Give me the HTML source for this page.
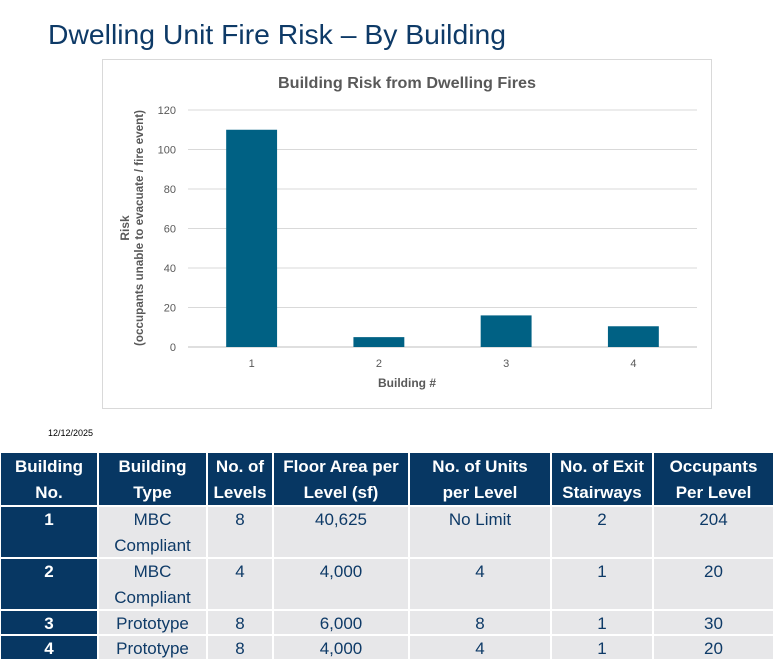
<!DOCTYPE html>
<html><head><meta charset="utf-8"><style>
html,body{margin:0;padding:0;background:#fff;}
svg{display:block;font-family:"Liberation Sans Narrow","Liberation Sans",sans-serif;}
</style></head><body>
<svg id="root" width="780" height="667" viewBox="0 0 780 667" xmlns="http://www.w3.org/2000/svg">
<text x="48" y="44" font-size="28" fill="#0e3a67" textLength="458" lengthAdjust="spacingAndGlyphs" font-family="Liberation Sans, sans-serif">Dwelling Unit Fire Risk – By Building</text>
<g>
<rect x="102.5" y="59.5" width="609" height="349" fill="#fff" stroke="#d9d9d9"/>
<text x="407" y="88" font-size="16" font-weight="bold" fill="#595959" text-anchor="middle" textLength="258" lengthAdjust="spacingAndGlyphs">Building Risk from Dwelling Fires</text>
<g id="grid"></g>
<g id="yticks"></g>
<g id="bars"></g>
<g id="xticks"></g>
<text x="407" y="387" font-size="12" font-weight="bold" fill="#595959" text-anchor="middle">Building #</text>
<g transform="translate(129,228) rotate(-90)">
<text x="0" y="0" font-size="12" font-weight="bold" fill="#595959" text-anchor="middle">Risk</text>
<text x="0" y="14" font-size="12" font-weight="bold" fill="#595959" text-anchor="middle" textLength="236" lengthAdjust="spacingAndGlyphs">(occupants unable to evacuate / fire event)</text>
</g>
</g>
<text x="48" y="436" font-size="9" fill="#000">12/12/2025</text>
<g id="table"></g>
</svg>
<script>
const categories = ["1","2","3","4"];
const riskValues = [110, 5, 16, 10.5];
const yTicks = [0,20,40,60,80,100,120];
const NS="http://www.w3.org/2000/svg";
function mk(tag,attrs,parent){const e=document.createElementNS(NS,tag);for(const k in attrs)e.setAttribute(k,attrs[k]);parent.appendChild(e);return e;}
const plotL=188, plotR=697, y0=347, y120=110;
function yScale(v){return y0-(v/120)*(y0-y120);}
const band=(plotR-plotL)/categories.length;
function xCenter(i){return plotL+band*(i+0.5);}
const grid=document.getElementById('grid'), yt=document.getElementById('yticks');
yTicks.forEach(t=>{
  const l=mk('line',{x1:plotL,x2:plotR,y1:yScale(t),y2:yScale(t),stroke:t===0?'#bfbfbf':'#d9d9d9','stroke-width':1},grid);
  
  
  const tx=mk('text',{x:176,y:yScale(t)+4,'font-size':11,fill:'#595959','text-anchor':'end','font-family':'Liberation Sans, sans-serif'},yt);
  tx.textContent=t;
  
  
});
const bars=document.getElementById('bars'), xt=document.getElementById('xticks');
const bw=band*0.4;
riskValues.forEach((v,i)=>{
  const r=mk('rect',{x:xCenter(i)-bw/2,y:yScale(v),width:bw,height:y0-yScale(v),fill:'#006184'},bars);
  
  
  const tx=mk('text',{x:xCenter(i),y:367,'font-size':11,fill:'#595959','text-anchor':'middle','font-family':'Liberation Sans, sans-serif'},xt);
  tx.textContent=categories[i];
  
  
});
const cols=[0,98,207,273,409,551,653,774];
const rows=[452,506,558,610,635,660];
const header=[["Building","No."],["Building","Type"],["No. of","Levels"],["Floor Area per","Level (sf)"],["No. of Units","per Level"],["No. of Exit","Stairways"],["Occupants","Per Level"]];
const data=[
 [["1"],["MBC","Compliant"],["8"],["40,625"],["No Limit"],["2"],["204"]],
 [["2"],["MBC","Compliant"],["4"],["4,000"],["4"],["1"],["20"]],
 [["3"],["Prototype"],["8"],["6,000"],["8"],["1"],["30"]],
 [["4"],["Prototype"],["8"],["4,000"],["4"],["1"],["20"]]
];
const tb=document.getElementById('table');
function cell(ri,ci,lines,bg,color,bold,name){
  const x=cols[ci]+1,y=rows[ri]+1,w=cols[ci+1]-cols[ci]-2,h=rows[ri+1]-rows[ri]-2;
  const r=mk('rect',{x:x,y:y,width:w,height:h,fill:bg},tb);
  
  
  lines.forEach((s,k)=>{
    const t=mk('text',{x:x+w/2,y:(ri===0?rows[ri]+20:rows[ri]+19)+k*26,'font-size':17,fill:color,'text-anchor':'middle','font-weight':bold?'bold':'normal'},tb);
    t.textContent=s;
    
    
  });
}
header.forEach((h,ci)=>cell(0,ci,h,'#073763','#fff',true,'header-cell'));
data.forEach((row,ri)=>row.forEach((c,ci)=>{
  if(ci===0) cell(ri+1,ci,c,'#073763','#fff',true,'building-number-cell');
  else cell(ri+1,ci,c,'#e7e7e9','#0e3a67',false,'table-cell');
}));
</script>
</body></html>
